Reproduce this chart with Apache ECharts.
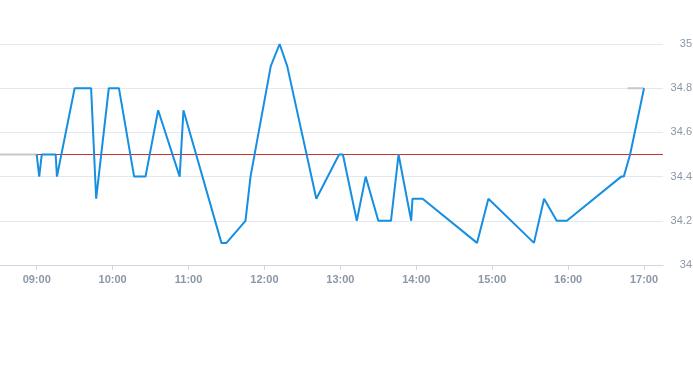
<!DOCTYPE html>
<html>
<head>
<meta charset="utf-8">
<script src="https://cdn.jsdelivr.net/npm/echarts@6/dist/echarts.min.js"></script>
<style>
html,body{margin:0;padding:0;background:#fff;}
#c{width:693px;height:365px;}
</style>
</head>
<body>
<div id="c"></div>
<script>
const times = ['09:00','09:02','09:04','09:15','09:16','09:30','09:43','09:47','09:57','10:05',
  '10:17','10:26','10:36','10:53','10:56','11:26','11:30','11:45','11:49','12:05',
  '12:12','12:18','12:41','12:59','13:02','13:13','13:20','13:30','13:40','13:46',
  '13:56','13:57','14:05','14:48','14:57','15:33','15:41','15:51','15:59','16:42',
  '16:44','16:49','17:00'];
const prices = [34.5,34.4,34.5,34.5,34.4,34.8,34.8,34.3,34.8,34.8,
  34.4,34.4,34.7,34.4,34.7,34.1,34.1,34.2,34.4,34.9,
  35.0,34.9,34.3,34.5,34.5,34.2,34.4,34.2,34.2,34.5,
  34.2,34.3,34.3,34.1,34.3,34.1,34.3,34.2,34.2,34.4,
  34.4,34.5,34.8];
const greyTimes = ['08:31','09:00',null,'16:47','17:00'];
const greyValues = [34.5,34.5,null,34.8,34.8];
const refValue = 34.5;
const xTickLabels = ['09:00','10:00','11:00','12:00','13:00','14:00','15:00','16:00','17:00'];
const axisStart = '08:31';
const axisEnd = '17:15';
const yMin = 34, yMax = 35, yStep = 0.2;

// minutes since midnight
const toMin = s => { const p = s.split(':'); return (+p[0]) * 60 + (+p[1]); };
const pad = n => (n < 10 ? '0' : '') + n;
const fmt = v => pad(Math.floor(v / 60)) + ':' + pad(Math.round(v % 60));

const mainData = times.map((t, i) => [toMin(t), prices[i]]);
const greyData = greyTimes.map((t, i) => t === null ? '-' : [toMin(t), greyValues[i]]);
const tickVals = xTickLabels.map(toMin);

const chart = echarts.init(document.getElementById('c'), null, {renderer: 'canvas'});
chart.setOption({
  animation: false,
  grid: {left: 0, right: 30, top: 44, bottom: 100, containLabel: false, outerBoundsMode: 'none'},
  xAxis: {
    type: 'value',
    min: toMin(axisStart),
    max: toMin(axisEnd),
    axisLine: {lineStyle: {color: '#ccd6e4', width: 1}},
    axisTick: {show: true, length: 5, customValues: tickVals, lineStyle: {color: '#ccd6e4'}},
    axisLabel: {
      customValues: tickVals,
      color: '#8b97a8',
      fontSize: 11,
      fontWeight: 'bold',
      fontFamily: 'Liberation Sans, Arial, sans-serif',
      margin: 9,
      formatter: v => fmt(v)
    },
    splitLine: {show: false}
  },
  yAxis: {
    type: 'value',
    position: 'right',
    min: yMin,
    max: yMax,
    interval: yStep,
    axisLine: {show: false},
    axisTick: {show: false},
    axisLabel: {
      color: '#8b97a8',
      fontSize: 11,
      fontFamily: 'Liberation Sans, Arial, sans-serif',
      align: 'right',
      margin: 29,
      formatter: v => String(+v.toFixed(1))
    },
    splitLine: {lineStyle: {color: '#e3e7ee', width: 1}}
  },
  series: [
    {
      type: 'line',
      data: [],
      symbol: 'none',
      z: 1,
      markLine: {
        silent: true,
        z: 1,
        symbol: 'none',
        label: {show: false},
        lineStyle: {color: '#c23531', width: 1, type: 'solid'},
        data: [{yAxis: refValue}]
      }
    },
    {
      type: 'line',
      data: greyData,
      showSymbol: false,
      symbol: 'none',
      connectNulls: false,
      lineStyle: {color: '#c4c8cf', width: 2},
      z: 2
    },
    {
      type: 'line',
      data: mainData,
      showSymbol: false,
      symbol: 'none',
      lineStyle: {color: '#168fe2', width: 2},
      z: 3
    }
  ]
});
</script>
</body>
</html>
